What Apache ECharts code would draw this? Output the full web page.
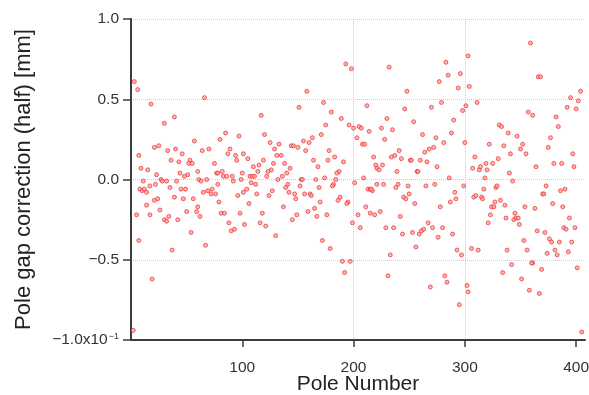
<!DOCTYPE html>
<html>
<head>
<meta charset="utf-8">
<title>Pole gap correction</title>
<script src="https://cdn.jsdelivr.net/npm/echarts/dist/echarts.min.js"></script>
<style>
html, body { margin: 0; padding: 0; background: #fff; }
#chart { width: 589px; height: 395px; }
</style>
</head>
<body>
<div id="chart"></div>
<script>
// pole number / half pole gap correction [mm]
var poleNo = [
	3, 6, 66, 18, 39, 30, 25, 21, 7, 33, 40, 36, 46, 43, 57, 64, 70, 80, 85, 97,
	89, 87, 94, 95, 101, 9, 15, 23, 44, 51, 48, 53, 52, 55, 60, 75, 77, 78, 82, 83,
	86, 91, 100, 11, 27, 28, 32, 41, 61, 63, 68, 92, 99, 8, 10, 12, 14, 17, 22, 21,
	24, 35, 39, 45, 49, 47, 56, 65, 69, 73, 72, 76, 78, 79, 96, 101, 14, 5, 17, 26,
	30, 32, 34, 42, 50, 60, 59, 62, 81, 84, 88, 90, 93, 98, 102, 54, 7, 67, 37, 19, 2,
	193, 198, 158, 173, 151, 117, 180, 189, 175, 196, 200, 120, 171, 203, 125, 133, 129, 144, 146, 150,
	155, 160, 163, 157, 105, 119, 115, 110, 128, 131, 135, 138, 143, 140, 126, 123, 122, 114, 164, 168,
	178, 177, 183, 191, 187, 185, 107, 109, 111, 108, 112, 104, 106, 113, 124, 127, 132, 136, 139, 141,
	142, 147, 148, 152, 153, 154, 156, 161, 162, 166, 169, 174, 170, 165, 167, 159, 182, 181, 184, 186,
	188, 195, 194, 201, 137, 118, 116, 121, 149, 145, 176, 199, 130, 172, 179, 190, 197, 192,
	303, 283, 232, 285, 296, 277, 294, 248, 304, 212, 246, 270, 279, 301, 298, 290, 254, 230, 205, 207,
	214, 225, 235, 262, 228, 208, 210, 274, 281, 288, 300, 241, 237, 234, 243, 218, 220, 226, 221, 223,
	239, 251, 252, 260, 264, 268, 272, 266, 275, 257, 258, 209, 286, 213, 215, 217, 216, 221, 227, 238,
	240, 249, 245, 247, 250, 255, 265, 273, 291, 292, 287, 299, 278, 211, 204, 215, 219, 224, 242, 206,
	229, 236, 244, 253, 259, 261, 263, 267, 271, 280, 276, 289, 256, 293, 297, 233, 231, 282, 284, 269,
	302, 303, 295,
	359, 366, 368, 404, 395, 402, 311, 392, 400, 357, 361, 382, 384, 331, 333, 339, 347, 322, 335, 352,
	350, 355, 341, 377, 375, 397, 309, 319, 325, 330, 380, 387, 398, 307, 313, 314, 320, 340, 364, 318,
	343, 317, 328, 329, 308, 310, 315, 316, 327, 324, 326, 332, 336, 354, 363, 373, 370, 371, 379, 386,
	390, 388, 394, 323, 321, 337, 344, 346, 348, 345, 349, 365, 372, 376, 378, 385, 389, 391, 399, 396,
	353, 306, 312, 338, 356, 374, 381, 383, 393, 361, 360, 369, 342, 334, 401, 351, 358, 367, 405
];
var gapHalf = [
	0.61, 0.56, 0.51, 0.47, 0.39, 0.35, 0.21, 0.20, 0.15, 0.18, 0.19, 0.12, 0.16, 0.11, 0.24, 0.18, 0.19, 0.25, 0.29, 0.27,
	0.19, 0.16, 0.15, 0.12, 0.16, 0.07, 0.06, 0.03, 0.04, 0.03, 0.02, 0.12, 0.10, 0.10, 0.05, 0.10, 0.04, 0.04, 0.05, 0.02,
	0.02, 0.02, 0.04, -0.01, 0.00, -0.01, -0.01, -0.01, 0.00, -0.01, 0.00, -0.01, 0.00, -0.06, -0.07, -0.06, -0.08, -0.04, -0.03, -0.13,
	-0.12, -0.05, -0.11, -0.06, -0.06, -0.12, -0.12, -0.08, -0.07, -0.06, -0.09, -0.09, -0.03, -0.14, -0.10, -0.08, -0.16, -0.22, -0.22, -0.19,
	-0.25, -0.26, -0.23, -0.25, -0.20, -0.17, -0.20, -0.23, -0.21, -0.21, -0.27, -0.32, -0.31, -0.21, -0.28, -0.33, -0.38, -0.41, -0.44, -0.62, -0.94,
	0.72, 0.69, 0.55, 0.48, 0.45, 0.40, 0.42, 0.38, 0.34, 0.34, 0.32, 0.28, 0.28, 0.26, 0.23, 0.22, 0.19, 0.21, 0.21, 0.20,
	0.24, 0.23, 0.26, 0.18, 0.13, 0.12, 0.09, 0.08, 0.10, 0.15, 0.15, 0.10, 0.07, 0.04, 0.06, 0.05, 0.02, 0.05, 0.12, 0.08,
	0.18, 0.12, 0.14, 0.11, 0.05, 0.04, 0.02, 0.02, 0.02, -0.02, -0.03, -0.06, -0.15, -0.09, -0.10, -0.07, 0.00, 0.02, -0.05, -0.03,
	-0.08, -0.09, -0.12, -0.04, 0.00, 0.00, -0.09, -0.09, -0.10, 0.00, -0.05, 0.01, -0.14, -0.18, -0.23, -0.20, -0.03, -0.04, 0.00, -0.13,
	-0.11, -0.14, -0.15, -0.02, -0.17, -0.21, -0.27, -0.29, -0.22, -0.25, -0.22, -0.27, -0.35, -0.38, -0.43, -0.51, -0.51, -0.58,
	0.77, 0.73, 0.70, 0.65, 0.66, 0.61, 0.57, 0.55, 0.58, 0.46, 0.44, 0.45, 0.48, 0.46, 0.43, 0.37, 0.36, 0.38, 0.33, 0.32,
	0.30, 0.32, 0.31, 0.28, 0.25, 0.22, 0.22, 0.26, 0.23, 0.29, 0.23, 0.18, 0.15, 0.14, 0.13, 0.14, 0.09, 0.09, 0.07, 0.06,
	0.05, 0.12, 0.12, 0.12, 0.17, 0.19, 0.20, 0.11, 0.08, 0.05, 0.05, 0.01, 0.01, -0.06, -0.06, -0.07, -0.06, -0.03, -0.03, -0.05,
	-0.03, -0.04, -0.11, -0.12, -0.09, -0.15, -0.04, -0.03, -0.08, -0.12, -0.14, -0.04, -0.17, -0.17, -0.22, -0.21, -0.22, -0.20, -0.23, -0.30,
	-0.30, -0.30, -0.34, -0.33, -0.34, -0.32, -0.31, -0.27, -0.30, -0.30, -0.36, -0.34, -0.42, -0.44, -0.47, -0.47, -0.60, -0.60, -0.64, -0.67,
	-0.66, -0.70, -0.78,
	0.85, 0.64, 0.64, 0.55, 0.51, 0.49, 0.48, 0.45, 0.44, 0.42, 0.40, 0.39, 0.33, 0.34, 0.33, 0.29, 0.27, 0.22, 0.21, 0.22,
	0.19, 0.16, 0.16, 0.26, 0.20, 0.16, 0.14, 0.10, 0.10, 0.13, 0.10, 0.10, 0.08, 0.07, 0.06, 0.08, 0.06, 0.04, 0.08, 0.01,
	-0.01, -0.06, -0.05, -0.04, -0.11, -0.10, -0.11, -0.12, -0.14, -0.17, -0.17, -0.13, -0.16, -0.17, -0.18, -0.04, -0.09, -0.09, -0.15, -0.07,
	-0.06, -0.17, -0.24, -0.22, -0.27, -0.24, -0.25, -0.24, -0.24, -0.21, -0.28, -0.32, -0.33, -0.37, -0.39, -0.39, -0.30, -0.31, -0.30, -0.39,
	-0.38, -0.43, -0.44, -0.44, -0.44, -0.46, -0.44, -0.47, -0.45, -0.52, -0.52, -0.56, -0.53, -0.58, -0.55, -0.62, -0.69, -0.71, -0.95
];
var xTicks = [100, 200, 300, 400];
var yMin = -1.0, yMax = 1.0, yStep = 0.5;

var points = [];
for (var i = 0; i < poleNo.length; i++) {
	points.push([poleNo[i], gapHalf[i]]);
}

var axisColor = '#3c3c3c';
var textColor = '#333';
var gridColor = '#c8cad8';
var font = 'Liberation Sans';

var chart = echarts.init(document.getElementById('chart'));
var option = {
	animation: false,
	grid: { left: 131, right: 4, top: 19, bottom: 55, outerBoundsMode: 'none', containLabel: false },
	xAxis: {
		type: 'value',
		min: 0,
		max: 408,
		name: 'Pole Number',
		nameLocation: 'middle',
		nameGap: 34,
		nameMoveOverlap: false,
		nameTextStyle: { fontFamily: font, fontSize: 21, color: '#222' },
		axisLine: { onZero: false, lineStyle: { color: axisColor, width: 2 } },
		axisTick: { customValues: xTicks, length: 7, lineStyle: { color: axisColor, width: 1.5 } },
		axisLabel: { customValues: xTicks, margin: 20, fontFamily: font, fontSize: 15.5, color: textColor },
		splitLine: { show: true, showMinLine: false, showMaxLine: false, lineStyle: { type: 'dotted', color: gridColor, width: 1 } }
	},
	yAxis: {
		type: 'value',
		min: yMin,
		max: yMax,
		interval: yStep,
		name: 'Pole gap correction (half) [mm]',
		nameLocation: 'middle',
		nameGap: 96,
		nameMoveOverlap: false,
		nameTextStyle: { fontFamily: font, fontSize: 22, color: '#222' },
		axisLine: { onZero: false, lineStyle: { color: axisColor, width: 2 } },
		axisTick: { length: 8, lineStyle: { color: axisColor, width: 1.5 } },
		axisLabel: {
			margin: 12,
			fontFamily: font,
			fontSize: 15.5,
			color: textColor,
			formatter: function (v) {
				if (v === yMin) return '{a|\u22121.0x10}{s|\u22121}';
				return (v < 0 ? '\u2212' : '') + Math.abs(v).toFixed(1);
			},
			rich: {
				a: { fontFamily: font, fontSize: 15.5, color: textColor, lineHeight: 15, padding: [6, 0, 0, 0], verticalAlign: 'bottom' },
				s: { fontFamily: font, fontSize: 9, color: textColor, lineHeight: 9, padding: [0, 0, 0, 1], verticalAlign: 'top' }
			}
		},
		splitLine: { show: true, showMinLine: false, lineStyle: { type: 'dotted', color: gridColor, width: 1 } }
	},
	series: [{
		type: 'scatter',
		data: points,
		symbol: 'circle',
		symbolSize: 4,
		itemStyle: { color: '#ffa0a0', borderColor: '#ee2c2c', borderWidth: 0.9 }
	}]
};
chart.setOption(option);
</script>
</body>
</html>
